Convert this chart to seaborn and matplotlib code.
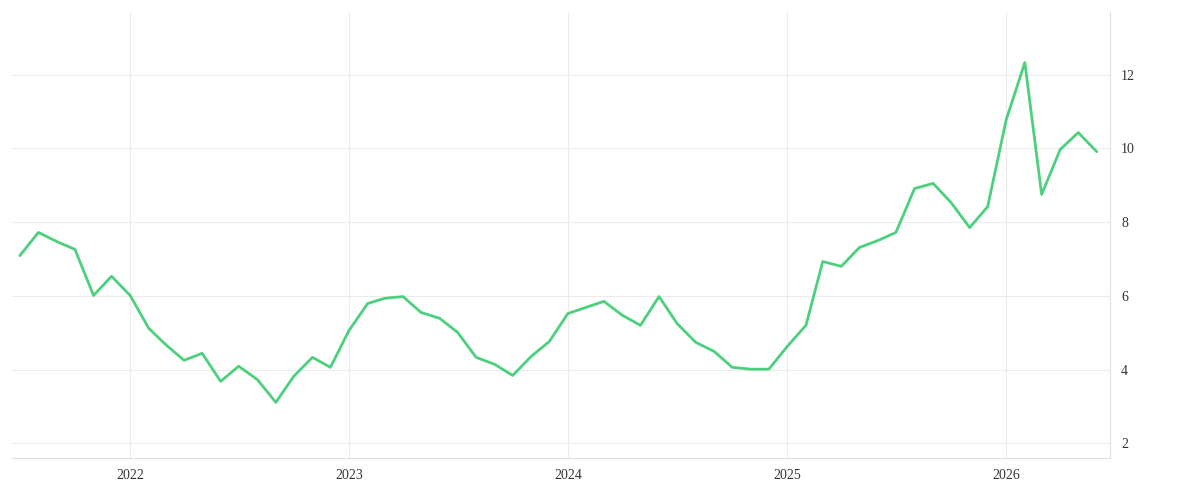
import pandas as pd
import numpy as np
import matplotlib.pyplot as plt
import seaborn as sns

# monthly values, Jul 2021 - Jun 2026
dates = pd.date_range("2021-07-01", periods=60, freq="MS")
values = [7.09, 7.72, 7.47, 7.26, 6.01, 6.53, 6.01, 5.12, 4.68, 4.25,
          4.44, 3.68, 4.09, 3.73, 3.11, 3.82, 4.33, 4.06, 5.06, 5.79,
          5.93, 5.98, 5.55, 5.39, 5.01, 4.33, 4.14, 3.84, 4.36, 4.76,
          5.52, 5.69, 5.85, 5.47, 5.20, 5.98, 5.25, 4.74, 4.49, 4.06,
          4.01, 4.01, 4.63, 5.20, 6.93, 6.80, 7.31, 7.50, 7.72, 8.91,
          9.05, 8.53, 7.85, 8.42, 10.78, 12.33, 8.75, 9.97, 10.43, 9.91]
yticks = [2, 4, 6, 8, 10, 12]
xtick_years = ["2022", "2023", "2024", "2025", "2026"]

data = pd.DataFrame({"date": dates, "value": values})

sns.set_style("white")
plt.rcParams["font.family"] = ["Liberation Serif", "DejaVu Serif"]

fig = plt.figure(figsize=(12, 5), dpi=100)
ax = fig.add_axes([0.01, 0.084, 0.915, 0.892])
sns.lineplot(data=data, x="date", y="value", color="#4cd07d", linewidth=2, ax=ax)

ax.set_xlim(pd.Timestamp("2021-06-18"), pd.Timestamp("2026-06-23"))
ax.set_ylim(1.6, 13.7)
ax.set_yticks(yticks)
ax.set_xticks([pd.Timestamp(y + "-01-01") for y in xtick_years])
ax.set_xticklabels(xtick_years)
ax.yaxis.tick_right()
ax.grid(True, color="#ebebeb", linewidth=0.8)
ax.tick_params(length=0, labelsize=10, colors="#333333", pad=8)
ax.set_xlabel("")
ax.set_ylabel("")
for s in ["top", "left"]:
    ax.spines[s].set_visible(False)
for s in ["bottom", "right"]:
    ax.spines[s].set_color("#e0e0e0")
    ax.spines[s].set_linewidth(0.8)

fig.savefig("out.png", dpi=100)
